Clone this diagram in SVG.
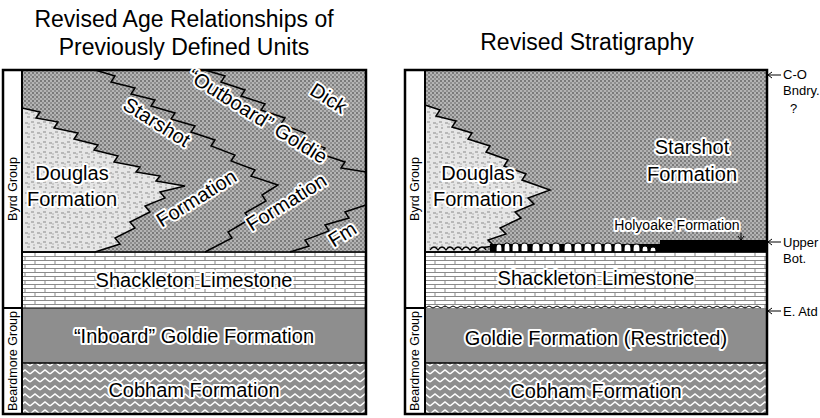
<svg xmlns="http://www.w3.org/2000/svg" width="820" height="418" viewBox="0 0 820 418">
<defs>
<pattern id="stip" width="4" height="4" patternUnits="userSpaceOnUse"><rect width="4" height="4" fill="#b4b4b4"/><rect width="2" height="2" fill="#7a7a7a"/><rect x="2" y="2" width="2" height="2" fill="#8e8e8e"/></pattern>
<pattern id="doug" width="12" height="10" patternUnits="userSpaceOnUse"><rect width="12" height="10" fill="#e6e6e6"/><path d="M1,3h3M7,2h3M3,7h3M9,8h2" stroke="#8a8a8a" stroke-width="1.2"/><circle cx="5" cy="4" r="0.7" fill="#999"/><circle cx="10" cy="5" r="0.7" fill="#999"/></pattern>
<pattern id="brick" width="20" height="8" patternUnits="userSpaceOnUse"><rect width="20" height="8" fill="#fff"/><path d="M0,0.5H20M0,4.5H20M5,0.5V4.5M15,4.5V8.5" stroke="#8a8a8a" stroke-width="1"/></pattern>
<pattern id="zig" width="10" height="8" patternUnits="userSpaceOnUse"><rect width="10" height="8" fill="#8e8e8e"/><path d="M0,6 L5,2 L10,6" fill="none" stroke="#fff" stroke-width="1.6"/></pattern>
</defs>
<style>
.t{font-family:"Liberation Sans",Arial,sans-serif;fill:#000;text-anchor:middle}
.h{font-size:20px;stroke:#fff;stroke-width:4;paint-order:stroke;stroke-linejoin:round}
.g{font-size:12.5px}
.title{font-size:23px}
.j{fill:none;stroke:#000;stroke-width:1.5}
.d{fill:url(#doug);stroke:#000;stroke-width:1.5}
.fr{fill:none;stroke:#000;stroke-width:2.5}
.s{font-size:13px;text-anchor:start;font-family:"Liberation Sans",Arial,sans-serif}
</style>
<g id="titles">
<text class="t title" x="184" y="27">Revised Age Relationships of</text>
<text class="t title" x="184" y="55">Previously Defined Units</text>
<text class="t title" x="587" y="50">Revised Stratigraphy</text>
</g>
<g id="left-panel">
<rect x="22" y="70" width="344" height="182" fill="url(#stip)"/>
<rect x="22" y="252" width="344" height="56" fill="url(#brick)"/>
<rect x="22" y="308" width="344" height="55" fill="#8e8e8e"/>
<rect x="22" y="363" width="344" height="51" fill="url(#zig)"/>
<path class="d" d="M22,108 L40,112 L36,118 L58,122 L54,128 L78,133 L74,139 L98,145 L94,150 L118,156 L114,162 L140,167 L136,172 L160,176 L156,181 L185,186 L160,192 L165,198 L145,206 L150,212 L130,222 L135,228 L115,238 L120,244 L95,252 L22,252 Z"/>
<path class="j" d="M95,70 L115,76 L111,82 L135,88 L131,94 L155,100 L151,106 L175,113 L171,119 L195,126 L191,132 L215,140 L211,146 L235,155 L231,161 L255,170 L251,176 L278,185 L262,195 L266,201 L245,213 L250,219 L228,232 L232,238 L205,252"/>
<path class="j" d="M205,70 L225,76 L221,82 L245,90 L241,96 L265,104 L261,110 L285,118 L281,124 L305,133 L301,139 L325,148 L321,154 L345,162 L341,168 L366,172"/>
<path class="j" d="M366,205 L345,212 L349,218 L325,225 L329,231 L305,240 L309,246 L290,252"/>
<line x1="22" y1="252" x2="366" y2="252" stroke="#000" stroke-width="1.5"/>
<line x1="22" y1="308" x2="366" y2="308" stroke="#000" stroke-width="1"/>
<line x1="22" y1="363" x2="366" y2="363" stroke="#000" stroke-width="1.5"/>
<rect x="3" y="70" width="19" height="344" fill="#fff" stroke="#000" stroke-width="2"/>
<line x1="3" y1="308" x2="22" y2="308" stroke="#000" stroke-width="2"/>
<rect x="3" y="70" width="363" height="344" class="fr"/>
<text class="t g" transform="translate(17,189) rotate(-90)">Byrd Group</text>
<text class="t g" transform="translate(17,361) rotate(-90)">Beardmore Group</text>
<text class="t h" x="72" y="180">Douglas</text>
<text class="t h" x="72" y="206">Formation</text>
<text class="t h" transform="translate(153,128) rotate(32)">Starshot</text>
<text class="t h" transform="translate(200,204) rotate(-32)">Formation</text>
<text class="t h" transform="translate(254,122) rotate(32)">“Outboard” Goldie</text>
<text class="t h" transform="translate(325,104) rotate(32)">Dick</text>
<text class="t h" transform="translate(290,208) rotate(-32)">Formation</text>
<text class="t h" transform="translate(346,240) rotate(-32)">Fm</text>
<text class="t h" x="194" y="287">Shackleton Limestone</text>
<text class="t h" x="194" y="343">“Inboard” Goldie Formation</text>
<text class="t h" x="194" y="397">Cobham Formation</text>
</g>
<g id="right-panel">
<rect x="425" y="70" width="342" height="182" fill="url(#stip)"/>
<rect x="425" y="252" width="342" height="56" fill="url(#brick)"/>
<rect x="425" y="308" width="342" height="55" fill="#8e8e8e"/>
<rect x="425" y="363" width="342" height="51" fill="url(#zig)"/>
<path class="d" d="M425,105 L440,110 L436,116 L456,121 L452,127 L472,133 L468,139 L490,146 L486,152 L508,160 L504,166 L526,174 L522,180 L550,190 L528,198 L534,204 L515,212 L521,218 L500,228 L506,234 L488,240 L494,246 L480,248 L474,252 L425,252 Z"/>
<path d="M430,250 q4,-6 8,0 q4,-6 8,0 q4,-6 8,0 q4,-6 8,0 q4,-6 8,0 q4,-6 8,0 q4,-6 8,0" fill="#e6e6e6" stroke="#000" stroke-width="1.3"/>
<rect x="490" y="244" width="170" height="8" fill="#000"/>
<rect x="660" y="240" width="107" height="12" fill="#000"/>
<g fill="#fff" stroke="#000" stroke-width="1.2">
<path d="M496,252 v-4 a3,4 0 0 1 6,0 v4z"/><path d="M504,252 v-5 a3,4 0 0 1 6,0 v5z"/><path d="M512,252 v-5 a3.5,4 0 0 1 7,0 v5z"/><path d="M521,252 v-5 a3.5,4 0 0 1 7,0 v5z"/><path d="M532,252 v-5 a4,4 0 0 1 8,0 v5z"/><path d="M542,252 v-5 a4,4 0 0 1 8,0 v5z"/><path d="M552,252 v-5 a4,4 0 0 1 8,0 v5z"/><path d="M564,252 v-5 a4,4 0 0 1 8,0 v5z"/><path d="M574,252 v-5 a4,4 0 0 1 8,0 v5z"/><path d="M584,252 v-5 a4,4 0 0 1 8,0 v5z"/><path d="M594,252 v-5 a4,4 0 0 1 8,0 v5z"/><path d="M604,252 v-5 a4,4 0 0 1 8,0 v5z"/><path d="M614,252 v-5 a4,4 0 0 1 8,0 v5z"/><path d="M624,252 v-4 a3.5,4 0 0 1 7,0 v4z"/><path d="M633,252 v-4 a3.5,4 0 0 1 7,0 v4z"/><path d="M642,252 v-3 a3,3 0 0 1 6,0 v3z"/><path d="M650,252 v-2 a3,3 0 0 1 6,0 v2z"/>
</g>
<line x1="425" y1="252" x2="767" y2="252" stroke="#000" stroke-width="1.5"/>
<path d="M425,308 l4,-2 l4,2 l4,-2 l4,2 l4,-2 l4,2 l4,-2 l4,2 l4,-2 l4,2 l4,-2 l4,2 l4,-2 l4,2 l4,-2 l4,2 l4,-2 l4,2 l4,-2 l4,2 l4,-2 l4,2 l4,-2 l4,2 l4,-2 l4,2 l4,-2 l4,2 l4,-2 l4,2 l4,-2 l4,2 l4,-2 l4,2 l4,-2 l4,2 l4,-2 l4,2 l4,-2 l4,2 l4,-2 l4,2 l4,-2 l4,2 l4,-2 l4,2 l4,-2 l4,2 l4,-2 l4,2 l4,-2 l4,2 l4,-2 l4,2 l4,-2 l4,2 l4,-2 l4,2 l4,-2 l4,2 l4,-2 l4,2 l4,-2 l4,2 l4,-2 l4,2 l4,-2 l4,2 l4,-2 l4,2 l4,-2 l4,2 l4,-2 l4,2 l4,-2 l4,2 l4,-2 l4,2 l4,-2 l4,2 l4,-2 l4,2 l4,-2 l4,2" fill="none" stroke="#000" stroke-width="1"/>
<line x1="425" y1="363" x2="767" y2="363" stroke="#000" stroke-width="1.5"/>
<rect x="405" y="70" width="20" height="344" fill="#fff" stroke="#000" stroke-width="2"/>
<line x1="405" y1="308" x2="425" y2="308" stroke="#000" stroke-width="2"/>
<rect x="405" y="70" width="362" height="344" class="fr"/>
<text class="t g" transform="translate(419,189) rotate(-90)">Byrd Group</text>
<text class="t g" transform="translate(419,361) rotate(-90)">Beardmore Group</text>
<text class="t h" x="478" y="180">Douglas</text>
<text class="t h" x="478" y="206">Formation</text>
<text class="t h" x="692" y="154">Starshot</text>
<text class="t h" x="692" y="181">Formation</text>
<text class="t h" x="677" y="230" style="font-size:14px">Holyoake Formation</text>
<path d="M741,233 V240 M738,236 L741,240 L744,236" fill="none" stroke="#000" stroke-width="1"/>
<text class="t h" x="596" y="285">Shackleton Limestone</text>
<text class="t h" x="596" y="345">Goldie Formation (Restricted)</text>
<text class="t h" x="596" y="398">Cobham Formation</text>
</g>
<g id="connectors" stroke="#000" stroke-width="1" fill="none">
<path d="M781,75 H768 M772,72 L768,75 L772,78"/>
<path d="M781,242 H768 M772,239 L768,242 L772,245"/>
<path d="M781,311 H768 M772,308 L768,311 L772,314"/>
</g>
<g id="side-labels">
<text class="s" x="783" y="79">C-O</text>
<text class="s" x="783" y="95">Bndry.</text>
<text class="s" x="790" y="113">?</text>
<text class="s" x="783" y="247">Upper</text>
<text class="s" x="783" y="263">Bot.</text>
<text class="s" x="783" y="316">E. Atd</text>
</g>
</svg>
